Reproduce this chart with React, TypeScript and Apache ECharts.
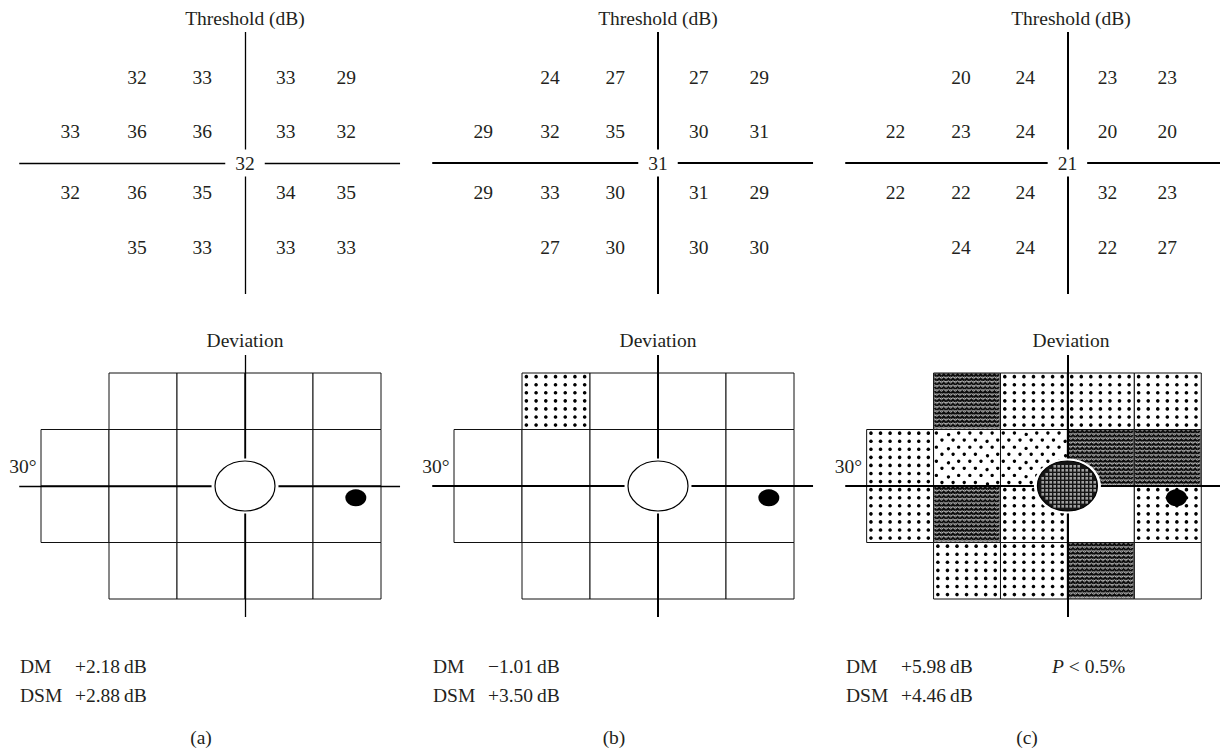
import React, { useEffect, useRef } from "react";
import * as echarts from "echarts";

// ---------- data ----------
// test-point eccentricities (degrees) of the threshold printout
const pointColDeg = [-25.7, -15.9, -6.3, 6.0, 14.9];
const pointRowDeg = [15.2, 5.5, -5.3, -14.9];
// which test columns are used in each row
const rowColumns = [
  [1, 2, 3, 4],
  [0, 1, 2, 3, 4],
  [0, 1, 2, 3, 4],
  [1, 2, 3, 4],
];

const thresholdA = [
  [32, 33, 33, 29],
  [33, 36, 36, 33, 32],
  [32, 36, 35, 34, 35],
  [35, 33, 33, 33],
];
const thresholdB = [
  [24, 27, 27, 29],
  [29, 32, 35, 30, 31],
  [29, 33, 30, 31, 29],
  [27, 30, 30, 30],
];
const thresholdC = [
  [20, 24, 23, 23],
  [22, 23, 24, 20, 20],
  [22, 22, 24, 32, 23],
  [24, 24, 22, 27],
];
const fovealA = 32;
const fovealB = 31;
const fovealC = 21;

// deviation sectors (10° squares): top edge of each row, left edges in each row
const sectorSize = 10;
const sectorRowTop = [20, 10, 0, -10];
const sectorRowLeft = [
  [-20, -10, 0, 10],
  [-30, -20, -10, 0, 10],
  [-30, -20, -10, 0, 10],
  [-20, -10, 0, 10],
];
// probability symbol: 0 normal, 1 dots, 2 staggered dots, 3 dense texture
const deviationA = [
  [0, 0, 0, 0],
  [0, 0, 0, 0, 0],
  [0, 0, 0, 0, 0],
  [0, 0, 0, 0],
];
const deviationB = [
  [1, 0, 0, 0],
  [0, 0, 0, 0, 0],
  [0, 0, 0, 0, 0],
  [0, 0, 0, 0],
];
const deviationC = [
  [3, 1, 1, 1],
  [1, 2, 2, 3, 3],
  [1, 3, 1, 0, 1],
  [1, 1, 3, 0],
];
const fixationDepressed = [0, 0, 1];
const blindSpot = [16.3, -2.1];

const panelLabels = ["(a)", "(b)", "(c)"];
const dmValues = ["+2.18", "\u22121.01", "+5.98"];
const dsmValues = ["+2.88", "+3.50", "+4.46"];
const pNote = ["", "", "< 0.5%"];

// ---------- layout / style ----------
const FONT = '"Liberation Serif", "Times New Roman", serif';
const FS = 19.5;
const INK = "#231f20";
const PX = 6.8; // px per degree, horizontal
const PY = 5.65; // px per degree, vertical
const panelCx = [245, 658, 1071];
const THR_CY = 163;
const DEV_CY = 486;
const X_MIN = -33.2;
const X_MAX = 22.8;
const Y_MIN = -23.2;
const Y_MAX = 23.2;
const crossWidth = [1.3, 2, 2];
const CLEAR = "rgba(0,0,0,0)";

const thresholds = [thresholdA, thresholdB, thresholdC];
const foveal = [fovealA, fovealB, fovealC];
const deviations = [deviationA, deviationB, deviationC];

function pointsOf(values: number[][]) {
  const out: number[][] = [];
  values.forEach((row, r) =>
    row.forEach((v, k) => out.push([pointColDeg[rowColumns[r][k]], pointRowDeg[r], v]))
  );
  return out;
}
function sectorsOf(levels: number[][]) {
  const out: number[][] = [];
  levels.forEach((row, r) =>
    row.forEach((lvl, k) => out.push([sectorRowLeft[r][k], sectorRowTop[r], lvl]))
  );
  return out;
}

function dots(x: number, y: number, w: number, h: number) {
  const els: any[] = [];
  const n = 7;
  for (let r = 0; r < n; r++)
    for (let c = 0; c < n; c++)
      els.push({
        type: "circle",
        shape: { cx: x + (w * (c + 0.45)) / n, cy: y + (h * (r + 0.45)) / n, r: 1.8 },
        style: { fill: "#000" },
      });
  return els;
}
function stagger(x: number, y: number, w: number, h: number) {
  const els: any[] = [];
  const rows = 8;
  const cols = 6;
  for (let r = 0; r < rows; r++)
    for (let c = 0; c < cols; c++) {
      const off = r % 2 === 0 ? 0.25 : 0.75;
      els.push({
        type: "circle",
        shape: { cx: x + (w * (c + off)) / cols, cy: y + (h * (r + 0.5)) / rows, r: 1.7 },
        style: { fill: "#000" },
      });
    }
  return els;
}
function texture(x: number, y: number, w: number, h: number) {
  const els: any[] = [
    { type: "rect", shape: { x, y, width: w, height: h }, style: { fill: "#7a7a7a" } },
  ];
  for (let yy = y + 2.5; yy < y + h - 1; yy += 4.2) {
    const pts: number[][] = [];
    const pts2: number[][] = [];
    let up = true;
    for (let xx = x + 1; xx <= x + w - 1; xx += 2.3) {
      pts.push([xx, yy + (up ? -1.2 : 1.2)]);
      pts2.push([xx, yy + 2.1 + (up ? 0.6 : -0.6)]);
      up = !up;
    }
    els.push({
      type: "polyline",
      shape: { points: pts },
      style: { stroke: "#0c0c0c", lineWidth: 1.7, fill: "none" },
    });
    els.push({
      type: "polyline",
      shape: { points: pts2 },
      style: { stroke: "#cfcfcf", lineWidth: 0.8, fill: "none" },
    });
  }
  return els;
}

function renderSector(_params: any, api: any) {
  const x0 = api.value(0);
  const y0 = api.value(1);
  const lvl = api.value(2);
  const p0 = api.coord([x0, y0]);
  const p1 = api.coord([x0 + sectorSize, y0 - sectorSize]);
  const x = p0[0];
  const y = p0[1];
  const w = p1[0] - p0[0];
  const h = p1[1] - p0[1];
  let children: any[] = [
    { type: "rect", shape: { x, y, width: w, height: h }, style: { fill: "#fff" } },
  ];
  if (lvl === 1) children = children.concat(dots(x, y, w, h));
  if (lvl === 2) children = children.concat(stagger(x, y, w, h));
  if (lvl === 3) children = children.concat(texture(x, y, w, h));
  children.push({
    type: "rect",
    shape: { x, y, width: w, height: h },
    style: { fill: "none", stroke: "#111", lineWidth: 1 },
  });
  return { type: "group", children };
}

function renderFixation(_params: any, api: any) {
  const c = api.coord([api.value(0), api.value(1)]);
  const filled = api.value(2) === 1;
  const rx = 30;
  const ry = 25;
  const children: any[] = [
    { type: "ellipse", shape: { cx: c[0], cy: c[1], rx: rx + 3.5, ry: ry + 2.5 }, style: { fill: "#fff" } },
    {
      type: "ellipse",
      shape: { cx: c[0], cy: c[1], rx, ry },
      style: { fill: filled ? "#151515" : "#fff", stroke: "#000", lineWidth: 1.2 },
    },
  ];
  if (filled) {
    const step = 4;
    const s = 2.6;
    for (let gx = -rx; gx <= rx; gx += step)
      for (let gy = -ry; gy <= ry; gy += step) {
        const mx = gx + s / 2;
        const my = gy + s / 2;
        if ((mx / (rx - 2)) ** 2 + (my / (ry - 2)) ** 2 <= 1)
          children.push({
            type: "rect",
            shape: { x: c[0] + gx, y: c[1] + gy, width: s, height: s },
            style: { fill: "#a0a0a0" },
          });
      }
  }
  return { type: "group", children };
}

function buildOption() {
  const grid: any[] = [];
  const xAxis: any[] = [];
  const yAxis: any[] = [];
  const series: any[] = [];
  const graphic: any[] = [];
  const txt = (x: number, y: number, text: string, align = "center") => ({
    type: "text",
    x,
    y,
    silent: true,
    style: {
      text,
      font: `${FS}px ${FONT}`,
      fill: INK,
      textAlign: align,
      textVerticalAlign: "middle",
      align,
      verticalAlign: "middle",
    },
  });
  const markCross = (i: number) => ({
    silent: true,
    symbol: ["none", "none"],
    label: { show: false },
    emphasis: { disabled: true },
    lineStyle: { color: "#000", width: crossWidth[i], type: "solid", opacity: 1 },
    data: [{ xAxis: 0 }, { yAxis: 0 }],
  });
  const labelBase = { fontFamily: FONT, fontSize: FS, color: INK, opacity: 1 };
  const clearItem = { color: CLEAR, opacity: 1 };

  for (let i = 0; i < 3; i++) {
    const cx = panelCx[i];
    [THR_CY, DEV_CY].forEach((cy) => {
      const g = grid.length;
      grid.push({
        left: cx + X_MIN * PX,
        top: cy - Y_MAX * PY,
        width: (X_MAX - X_MIN) * PX,
        height: (Y_MAX - Y_MIN) * PY,
        show: false,
      });
      xAxis.push({ type: "value", gridIndex: g, min: X_MIN, max: X_MAX, show: false });
      yAxis.push({ type: "value", gridIndex: g, min: Y_MIN, max: Y_MAX, show: false });
    });
    const gt = i * 2;
    const gd = i * 2 + 1;

    // threshold printout
    series.push({
      type: "scatter",
      xAxisIndex: gt,
      yAxisIndex: gt,
      silent: true,
      symbolSize: 1,
      itemStyle: clearItem,
      data: pointsOf(thresholds[i]),
      label: { show: true, position: "inside", formatter: (p: any) => String(p.value[2]), ...labelBase },
      markLine: markCross(i),
    });
    series.push({
      type: "scatter",
      xAxisIndex: gt,
      yAxisIndex: gt,
      silent: true,
      z: 10,
      symbolSize: 1,
      itemStyle: clearItem,
      data: [[0, 0, foveal[i]]],
      label: {
        show: true,
        position: "inside",
        formatter: (p: any) => String(p.value[2]),
        backgroundColor: "#ffffff",
        padding: [6, 10],
        lineHeight: 15,
        ...labelBase,
      },
    });

    // deviation map
    series.push({
      type: "custom",
      xAxisIndex: gd,
      yAxisIndex: gd,
      silent: true,
      z: 2,
      data: sectorsOf(deviations[i]),
      renderItem: renderSector,
    });
    series.push({
      type: "scatter",
      xAxisIndex: gd,
      yAxisIndex: gd,
      silent: true,
      symbolSize: 1,
      itemStyle: clearItem,
      data: [[-30, 0]],
      label: {
        show: true,
        position: "left",
        distance: 4,
        offset: [0, -20],
        formatter: "30°",
        ...labelBase,
      },
      markLine: markCross(i),
    });
    series.push({
      type: "custom",
      xAxisIndex: gd,
      yAxisIndex: gd,
      silent: true,
      z: 10,
      data: [[0, 0, fixationDepressed[i]]],
      renderItem: renderFixation,
    });
    series.push({
      type: "scatter",
      xAxisIndex: gd,
      yAxisIndex: gd,
      silent: true,
      z: 11,
      symbol: "circle",
      symbolSize: [21, 17],
      itemStyle: { color: "#000", opacity: 1 },
      data: [blindSpot],
    });

    // texts
    graphic.push(txt(cx, 18, "Threshold (dB)"));
    graphic.push(txt(cx, 340, "Deviation"));
    const dmX = cx - 225;
    const valX = cx - 170;
    graphic.push(txt(dmX, 666, "DM", "left"));
    graphic.push(txt(valX, 666, `${dmValues[i]}\u2009dB`, "left"));
    graphic.push(txt(dmX, 695, "DSM", "left"));
    graphic.push(txt(valX, 695, `${dsmValues[i]}\u2009dB`, "left"));
    if (pNote[i]) {
      graphic.push({
        type: "text",
        x: cx - 19,
        y: 666,
        silent: true,
        style: {
          text: `{i|P} {n|${pNote[i]}}`,
          textAlign: "left",
          textVerticalAlign: "middle",
          align: "left",
          verticalAlign: "middle",
          rich: {
            i: { fontFamily: FONT, fontSize: FS, fontStyle: "italic", fill: INK, color: INK },
            n: { fontFamily: FONT, fontSize: FS, fill: INK, color: INK },
          },
          fontFamily: FONT,
          fontSize: FS,
          fill: INK,
        },
      });
    }
    graphic.push(txt(cx - 44, 737, panelLabels[i]));
  }

  return {
    animation: false,
    backgroundColor: "#fff",
    grid,
    xAxis,
    yAxis,
    series,
    graphic,
  };
}

export default function App() {
  const ref = useRef<HTMLDivElement>(null);
  useEffect(() => {
    if (!ref.current) return;
    const chart = echarts.init(ref.current, null, { renderer: "svg", width: 1220, height: 748 });
    chart.setOption(buildOption() as any);
    return () => chart.dispose();
  }, []);
  return (
    <div
      ref={ref}
      style={{ position: "fixed", left: 0, top: 0, width: 1220, height: 748, background: "#fff" }}
    />
  );
}
